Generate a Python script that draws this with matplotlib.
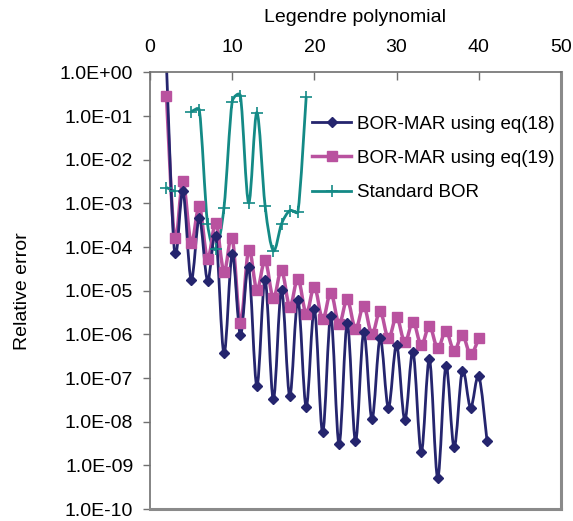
import numpy as np
import matplotlib
matplotlib.use("Agg")
import matplotlib.pyplot as plt
from matplotlib.path import Path
from matplotlib.patches import PathPatch
from matplotlib.lines import Line2D

# Data (x = order of Legendre polynomial)
n_eq18 = list(range(2, 42))
err_eq18 = [1.5, 7.4e-5, 1.9e-3, 1.8e-5, 4.6e-4, 1.7e-5, 1.8e-4, 3.7e-7, 6.8e-5, 9.7e-7,
            3.55e-5, 6.6e-8, 1.8e-5, 3.3e-8, 1.04e-5, 3.9e-8, 6.2e-6, 2.2e-8, 3.8e-6, 5.7e-9,
            2.6e-6, 3.1e-9, 1.8e-6, 3.6e-9, 1.15e-6, 1.15e-8, 8.1e-7, 2.1e-8, 5.7e-7, 1.1e-8,
            4.0e-7, 2.0e-9, 2.7e-7, 5.2e-10, 1.9e-7, 2.6e-9, 1.48e-7, 2.1e-8, 1.1e-7, 3.7e-9]

n_eq19 = list(range(2, 41))
err_eq19 = [0.29, 1.6e-4, 3.2e-3, 1.26e-4, 8.5e-4, 5.4e-5, 3.5e-4, 2.7e-5, 1.65e-4, 1.8e-6,
            8.6e-5, 1.04e-5, 5.0e-5, 6.7e-6, 3.0e-5, 4.3e-6, 1.9e-5, 3.0e-6, 1.24e-5, 2.2e-6,
            9.1e-6, 1.74e-6, 6.3e-6, 1.33e-6, 4.5e-6, 1.02e-6, 3.4e-6, 8.1e-7, 2.5e-6, 6.6e-7,
            1.95e-6, 5.7e-7, 1.55e-6, 4.8e-7, 1.2e-6, 4.2e-7, 9.7e-7, 3.5e-7, 8.1e-7]

n_std = list(range(2, 20))
err_std = [2.3e-3, 1.9e-3, np.nan, 0.126, 0.138, 3.4e-4, 8.9e-5, 8.0e-4, 0.214, 0.29,
           1.04e-3, 0.12, 8.9e-4, 8.3e-5, 3.4e-4, 6.8e-4, 6.5e-4, 0.27]

labels = ["BOR-MAR using eq(18)", "BOR-MAR using eq(19)", "Standard BOR"]
colors = ["#25256e", "#b9529f", "#148a86"]


def smooth_path(x, y, sx, sy):
    """Excel-like smoothed line: Bezier with control arms of 1/6, clamped to half a segment.
    Built in screen-like units (sx px per x unit, sy px per decade)."""
    pts = np.column_stack([np.asarray(x, float) * sx,
                           np.log10(np.asarray(y, float)) * sy])
    m = len(pts)
    verts = [pts[0]]
    codes = [Path.MOVETO]
    for i in range(m - 1):
        p0 = pts[max(i - 1, 0)]
        p1 = pts[i]
        p2 = pts[i + 1]
        p3 = pts[min(i + 2, m - 1)]
        half = np.hypot(*(p2 - p1)) / 2
        v1 = (p2 - p0) / 6
        v2 = (p3 - p1) / 6
        if np.hypot(*v1) > half:
            v1 = v1 * half / np.hypot(*v1)
        if np.hypot(*v2) > half:
            v2 = v2 * half / np.hypot(*v2)
        verts += [p1 + v1, p2 - v2, p2]
        codes += [Path.CURVE4] * 3
    verts = np.array(verts)
    verts[:, 0] = verts[:, 0] / sx
    verts[:, 1] = 10 ** (verts[:, 1] / sy)
    return Path(verts, codes)


def draw_smooth(ax, x, y, color, lw, sx, sy):
    x = np.asarray(x, float)
    y = np.asarray(y, float)
    ok = ~np.isnan(y)
    # split at gaps
    start = None
    for i in range(len(x) + 1):
        if i < len(x) and ok[i]:
            if start is None:
                start = i
        elif start is not None:
            if i - start > 1:
                ax.add_patch(PathPatch(smooth_path(x[start:i], y[start:i], sx, sy),
                                       fill=False, edgecolor=color, lw=lw, zorder=2))
            start = None


plt.rcParams["font.family"] = ["Liberation Sans", "DejaVu Sans"]

fig = plt.figure(figsize=(5.73, 5.21), dpi=100)
ax_rect = [0.2618, 0.023, 0.7172, 0.838]
ax = fig.add_axes(ax_rect)

# pixels per x unit and per decade, for the smoothing
sx = ax_rect[2] * 573 / 50
sy = ax_rect[3] * 521 / 10

draw_smooth(ax, n_std, err_std, colors[2], 2.0, sx, sy)
draw_smooth(ax, n_eq19, err_eq19, colors[1], 2.5, sx, sy)
draw_smooth(ax, n_eq18, err_eq18, colors[0], 2.0, sx, sy)

ax.plot(n_std, err_std, ls="none", marker="+", ms=9, mew=1.2, color=colors[2], zorder=3)
ax.plot(n_eq19, err_eq19, ls="none", marker="s", ms=7.5, color=colors[1], zorder=3)
ax.plot(n_eq18, err_eq18, ls="none", marker="D", ms=5.5, color=colors[0], zorder=4)

ax.set_yscale("log")
ax.set_xlim(0, 50)
ax.set_ylim(1e-10, 1)
ax.set_yticks([10.0 ** k for k in range(0, -11, -1)])
ax.set_yticklabels(["1.0E+00"] + ["1.0E-%02d" % k for k in range(1, 11)])
ax.yaxis.set_minor_locator(matplotlib.ticker.NullLocator())
ax.set_xticks(range(0, 51, 10))

ax.xaxis.tick_top()
ax.xaxis.set_label_position("top")
ax.tick_params(axis="x", direction="in", length=6, width=1, color="#707070",
               labelsize=14, pad=12)
ax.tick_params(axis="y", direction="out", length=5, width=1, color="#707070",
               labelsize=14, pad=7)
ax.set_xlabel("Legendre polynomial", fontsize=14, labelpad=12)
ax.set_ylabel("Relative error", fontsize=14, labelpad=21)

for side in ["left", "top"]:
    ax.spines[side].set_color("#707070")
    ax.spines[side].set_linewidth(1.2)
for side in ["right", "bottom"]:
    ax.spines[side].set_color("#8a8a8a")
    ax.spines[side].set_linewidth(2.2)

handles = [
    Line2D([], [], color=colors[0], lw=2.0, marker="D", ms=5.5),
    Line2D([], [], color=colors[1], lw=2.5, marker="s", ms=7.5),
    Line2D([], [], color=colors[2], lw=2.0, marker="+", ms=9, mew=1.2),
]
ax.legend(handles, labels, loc="center left", bbox_to_anchor=(0.5445, 0.6958),
          bbox_transform=fig.transFigure, frameon=False, fontsize=13.5,
          numpoints=1, handlelength=2.1, handletextpad=0.3, labelspacing=0.92,
          borderpad=0, borderaxespad=0)

fig.savefig("out.png", dpi=100)
